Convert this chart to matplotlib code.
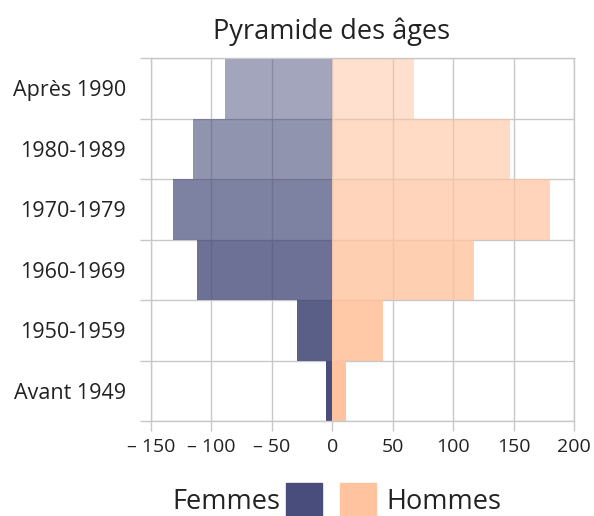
import matplotlib
matplotlib.use("Agg")
import matplotlib.pyplot as plt
from matplotlib.patches import Rectangle

plt.rcParams['font.family'] = ['Open Sans', 'DejaVu Sans']

categories = ['Avant 1949', '1950-1959', '1960-1969', '1970-1979', '1980-1989', 'Après 1990']
femmes = [5, 29, 112, 132, 115, 89]
hommes = [11, 42, 117, 180, 147, 68]
x_ticks = [-150, -100, -50, 0, 50, 100, 150, 200]

col_f = '#484d7b'
col_h = '#ffc39f'
grid_col = '#c8c8c8'
txt_col = '#222222'
alphas = [1.0, 0.9, 0.8, 0.7, 0.6, 0.5]

fig = plt.figure(figsize=(5.94, 5.16), dpi=100)
ax = fig.add_axes([151 / 594, 95 / 516, 423 / 594, 363 / 516])

for i in range(len(categories)):
    ax.barh(i + 0.5, -femmes[i], height=1.0, color=col_f, alpha=alphas[i], linewidth=0, zorder=2)
    ax.barh(i + 0.5, hommes[i], height=1.0, color=col_h, alpha=alphas[i], linewidth=0, zorder=2)

ax.set_xlim(-150, 200)
ax.set_ylim(0, len(categories))

ax.set_xticks(x_ticks)
ax.set_xticklabels([('– %d' % -v) if v < 0 else str(v) for v in x_ticks], fontsize=14, color=txt_col)
ax.set_yticks(range(len(categories) + 1))
ax.set_yticklabels([])
ax.set_yticks([i + 0.5 for i in range(len(categories))], minor=True)
ax.set_yticklabels(categories, minor=True, fontsize=15.5, color=txt_col)

ax.tick_params(axis='x', which='major', length=7.5, width=1.0, color=grid_col, pad=5)
ax.tick_params(axis='y', which='major', length=8, width=1.0, color=grid_col)
ax.tick_params(axis='y', which='minor', length=0, pad=18)

ax.grid(True, which='major', color=grid_col, linewidth=1.0, zorder=1)
ax.set_axisbelow(True)
for s in ax.spines.values():
    s.set_color(grid_col)
    s.set_linewidth(1.0)

fig.text(332 / 594, 1 - 32 / 516, 'Pyramide des âges', ha='center', va='center',
         fontsize=19.5, color=txt_col)

# legend
fig.patches.append(Rectangle((286 / 594, 0), 36 / 594, 33 / 516, transform=fig.transFigure,
                             color=col_f, figure=fig))
fig.patches.append(Rectangle((340 / 594, 0), 36 / 594, 33 / 516, transform=fig.transFigure,
                             color=col_h, figure=fig))
fig.text(280 / 594, 1 - 502 / 516, 'Femmes', ha='right', va='center', fontsize=19.5, color=txt_col)
fig.text(386 / 594, 1 - 502 / 516, 'Hommes', ha='left', va='center', fontsize=19.5, color=txt_col)

fig.savefig('out.png', dpi=100)
